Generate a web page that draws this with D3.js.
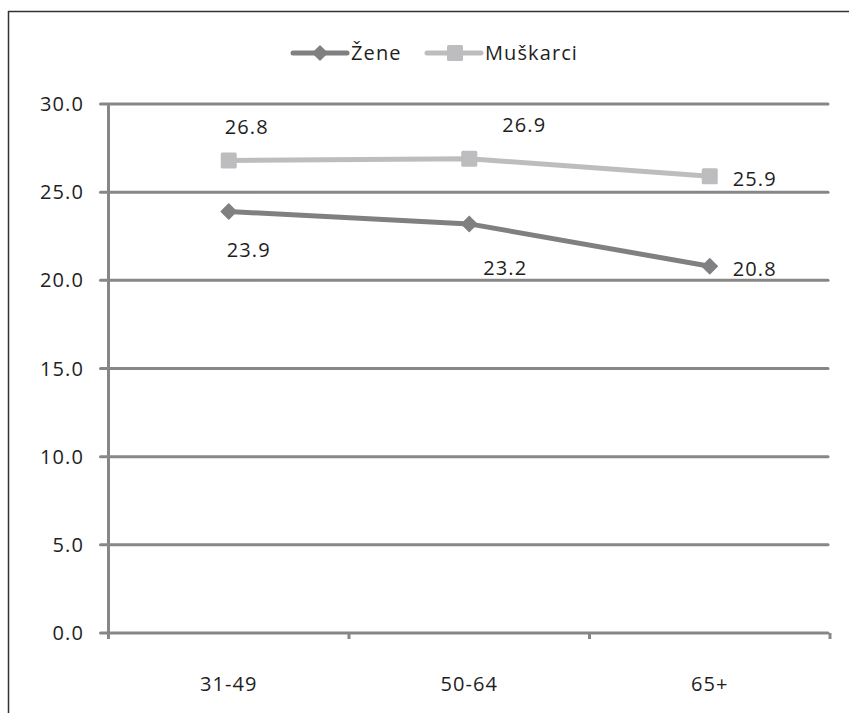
<!DOCTYPE html>
<html><head><meta charset="utf-8">
<script src="https://cdn.jsdelivr.net/npm/d3@7"></script>
<style>body{margin:0;background:#fff}svg{display:block}text{font-family:"Open Sans","Noto Sans","Liberation Sans",sans-serif;fill:#1e1e1e;letter-spacing:1.1px}</style>
</head><body>
<script>
const categories = ["31-49", "50-64", "65+"];
const seriesNames = ["Žene", "Muškarci"];
const zene = [23.9, 23.2, 20.8];
const muskarci = [26.8, 26.9, 25.9];
const yTicks = [0, 5, 10, 15, 20, 25, 30];

(function () {
const W = 849, H = 713, FS = 20;
const svg = d3.select("body").append("svg").attr("width", W).attr("height", H);

svg.append("line").attr("x1", 8).attr("x2", W).attr("y1", 11.5).attr("y2", 11.5).attr("stroke", "#333").attr("stroke-width", 1.5);
svg.append("line").attr("x1", 8.5).attr("x2", 8.5).attr("y1", 11).attr("y2", H).attr("stroke", "#333").attr("stroke-width", 1.5);

const pLeft = 108.5, pRight = 830, pTop = 104, pBottom = 633;
const x = d3.scaleBand().domain(categories).range([pLeft, pRight]);
const y = d3.scaleLinear().domain([0, 30]).range([pBottom, pTop]);
const gridColor = "#878787";

svg.append("g").selectAll("line").data(yTicks).join("line")
  .attr("x1", pLeft - 8).attr("x2", pRight - 2)
  .attr("y1", d => y(d)).attr("y2", d => y(d))
  .attr("stroke", gridColor).attr("stroke-width", 3).attr("stroke-linecap", "round");

svg.append("line").attr("x1", pLeft).attr("x2", pLeft).attr("y1", pTop).attr("y2", pBottom + 6)
  .attr("stroke", gridColor).attr("stroke-width", 3);
const bounds = categories.map(c => x(c) + x.bandwidth());
svg.append("g").selectAll("line").data(bounds).join("line")
  .attr("x1", d => d).attr("x2", d => d).attr("y1", pBottom).attr("y2", pBottom + 6)
  .attr("stroke", gridColor).attr("stroke-width", 3);

svg.append("g").selectAll("text").data(yTicks).join("text")
  .attr("x", 84).attr("y", d => y(d)).attr("dy", "0.35em")
  .attr("text-anchor", "end").attr("font-size", FS)
  .text(d => d.toFixed(1));

svg.append("g").selectAll("text").data(categories).join("text")
  .attr("x", d => x(d) + x.bandwidth() / 2).attr("y", 684).attr("dy", "0.35em")
  .attr("text-anchor", "middle").attr("font-size", FS).text(d => d);

const cx = c => x(c) + x.bandwidth() / 2;
const line = d3.line().x((d, i) => cx(categories[i])).y(d => y(d));
const cZ = "#808082", cM = "#bdbdbf";

svg.append("path").datum(muskarci).attr("d", line).attr("fill", "none").attr("stroke", cM).attr("stroke-width", 5);
svg.append("path").datum(zene).attr("d", line).attr("fill", "none").attr("stroke", cZ).attr("stroke-width", 5);

function square(g, px, py, s, col) {
  g.append("rect").attr("x", px - s / 2).attr("y", py - s / 2).attr("width", s).attr("height", s)
    .attr("rx", 1.5).attr("fill", col);
}
function diamond(g, px, py, s, col) {
  g.append("path").attr("d", `M${px},${py - s / 2}L${px + s / 2},${py}L${px},${py + s / 2}L${px - s / 2},${py}Z`)
    .attr("fill", col).attr("stroke", col).attr("stroke-width", 1.5).attr("stroke-linejoin", "round");
}
muskarci.forEach((v, i) => square(svg, cx(categories[i]), y(v), 16, cM));
zene.forEach((v, i) => diamond(svg, cx(categories[i]), y(v), 15, cZ));

const mOff = [[18, -33], [55, -34], [45, 3]];
const zOff = [[20, 38], [36, 44], [45, 3]];
muskarci.forEach((v, i) => svg.append("text").attr("x", cx(categories[i]) + mOff[i][0]).attr("y", y(v) + mOff[i][1])
  .attr("dy", "0.35em").attr("text-anchor", "middle").attr("font-size", FS).text(v.toFixed(1)));
zene.forEach((v, i) => svg.append("text").attr("x", cx(categories[i]) + zOff[i][0]).attr("y", y(v) + zOff[i][1])
  .attr("dy", "0.35em").attr("text-anchor", "middle").attr("font-size", FS).text(v.toFixed(1)));

const lg = svg.append("g");
const legendItems = [{name: seriesNames[0], col: cZ, x0: 293, shape: "d"}, {name: seriesNames[1], col: cM, x0: 427, shape: "s"}];
legendItems.forEach(it => {
  lg.append("line").attr("x1", it.x0).attr("x2", it.x0 + 54).attr("y1", 53).attr("y2", 53)
    .attr("stroke", it.col).attr("stroke-width", 5).attr("stroke-linecap", "round");
  if (it.shape === "d") diamond(lg, it.x0 + 27, 53, 14, it.col); else square(lg, it.x0 + 28, 53, 16, it.col);
  lg.append("text").attr("x", it.x0 + 58).attr("y", 53).attr("dy", "0.35em").attr("font-size", FS).text(it.name);
});
})();
</script>
</body></html>
